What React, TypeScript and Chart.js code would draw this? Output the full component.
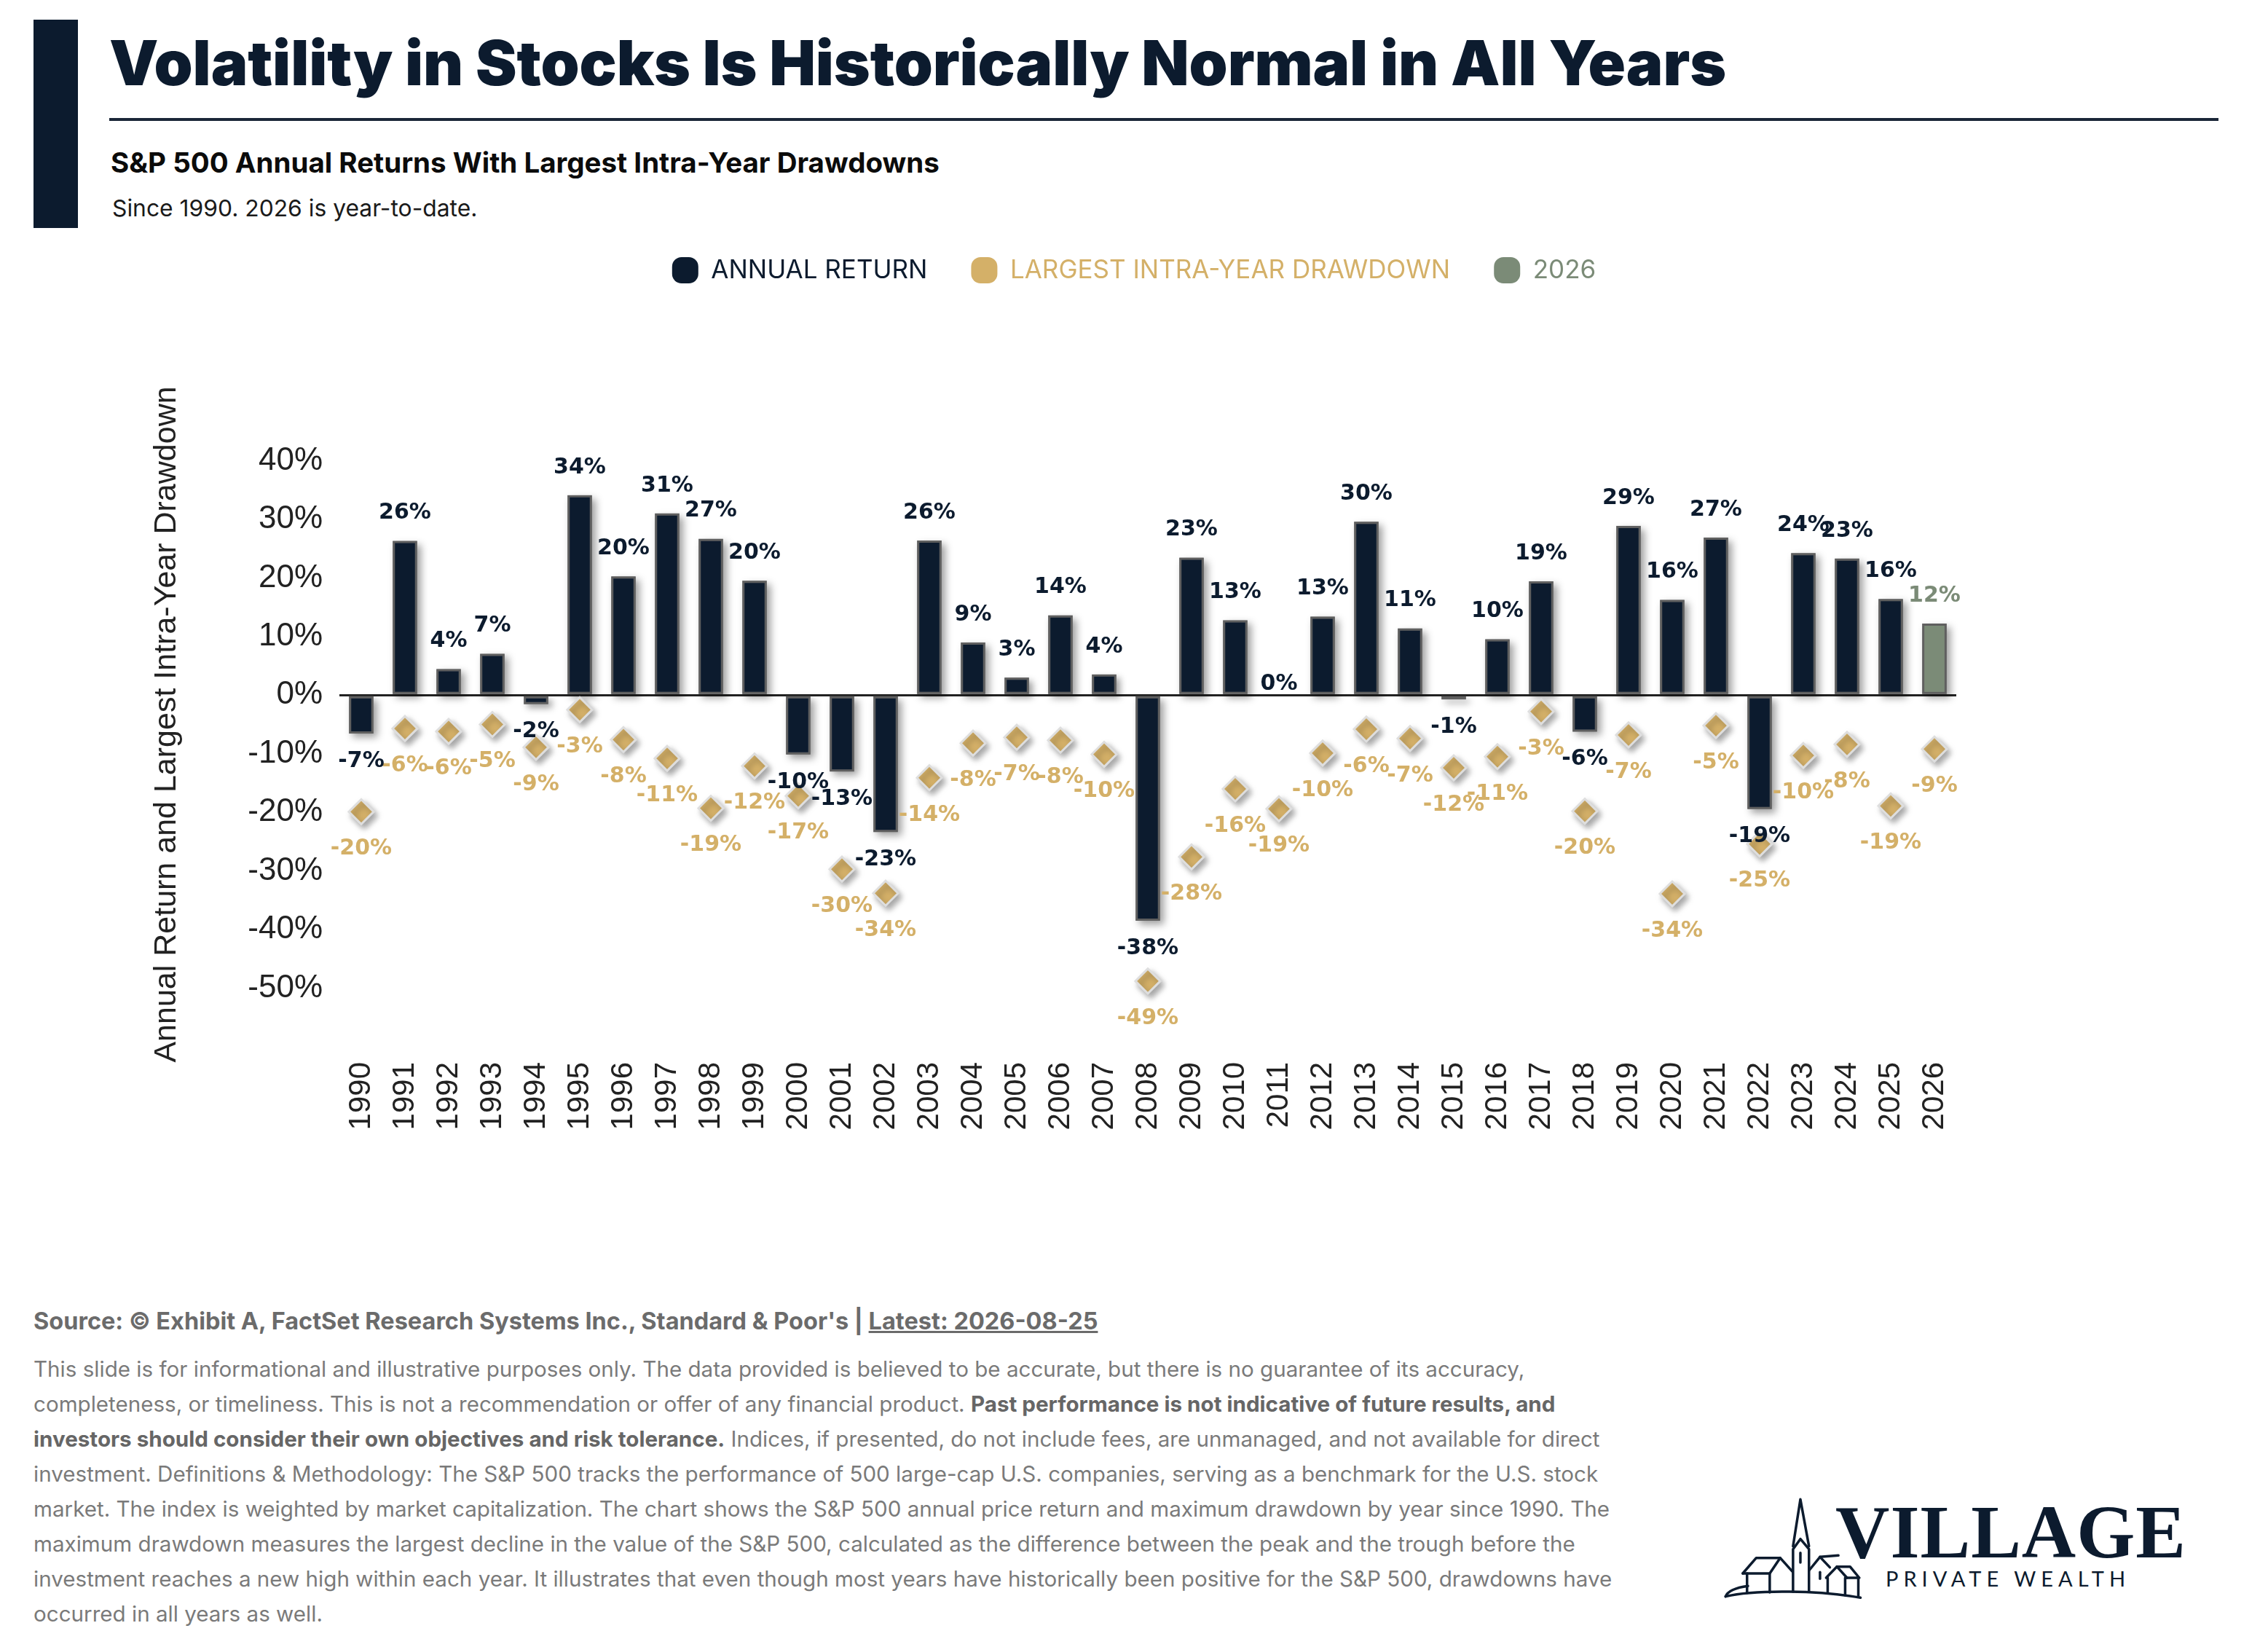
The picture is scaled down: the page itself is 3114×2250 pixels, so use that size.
import React, { useEffect, useRef } from 'react';
import { Chart, registerables } from 'chart.js';

Chart.register(...registerables);

// ---------------- DATA ----------------
const YEARS = [
  '1990', '1991', '1992', '1993', '1994', '1995', '1996', '1997', '1998', '1999',
  '2000', '2001', '2002', '2003', '2004', '2005', '2006', '2007', '2008', '2009',
  '2010', '2011', '2012', '2013', '2014', '2015', '2016', '2017', '2018', '2019',
  '2020', '2021', '2022', '2023', '2024', '2025', '2026',
];

const ANNUAL_RETURN = [
  -6.56, 26.31, 4.46, 7.06, -1.54, 34.11, 20.26, 31.01, 26.67, 19.53,
  -10.14, -13.04, -23.37, 26.38, 8.99, 3.0, 13.62, 3.53, -38.49, 23.45,
  12.78, 0.0, 13.41, 29.6, 11.39, -0.73, 9.54, 19.42, -6.24, 28.88,
  16.26, 26.89, -19.44, 24.23, 23.31, 16.4, 12.2,
];

const LARGEST_DRAWDOWN = [
  -19.9, -5.7, -6.2, -5.0, -8.9, -2.5, -7.6, -10.8, -19.3, -12.1,
  -17.2, -29.7, -33.8, -14.1, -8.2, -7.2, -7.7, -10.1, -48.8, -27.6,
  -16.0, -19.4, -9.9, -5.8, -7.4, -12.4, -10.5, -2.8, -19.8, -6.8,
  -33.9, -5.2, -25.4, -10.3, -8.4, -18.9, -9.2,
];

const Y_TICKS = [40, 30, 20, 10, 0, -10, -20, -30, -40, -50];
const HIGHLIGHT_YEAR = '2026';
const LEGEND_LABELS = ['ANNUAL RETURN', 'LARGEST INTRA-YEAR DRAWDOWN', '2026'];

// ---------------- STYLE ----------------
const NAVY = '#0c1b2e';
const GOLD = '#d4b068';
const SAGE = '#7b8b77';
const TICK_COLOR = '#222222';

const pct = (v: number) => {
  const r = Math.sign(v) * Math.round(Math.abs(v));
  return (r === 0 ? 0 : r) + '%';
};

const barShadowPlugin = {
  id: 'barShadow',
  beforeDatasetsDraw(chart: any) {
    const meta = chart.getDatasetMeta(0);
    const ctx = chart.ctx;
    ctx.save();
    ctx.shadowColor = 'rgba(0,0,0,0.38)';
    ctx.shadowBlur = 10;
    ctx.shadowOffsetX = 5;
    ctx.shadowOffsetY = 5;
    ctx.fillStyle = '#777';
    meta.data.forEach((el: any) => {
      const { x, y, base, width } = el.getProps(['x', 'y', 'base', 'width'], true);
      const top = Math.min(y, base);
      const h = Math.abs(base - y);
      if (h < 0.5) return;
      ctx.fillRect(x - width / 2, top, width, h);
    });
    ctx.restore();
  },
  beforeDatasetDraw(chart: any, args: any) {
    if (args.index === 1) {
      const ctx = chart.ctx;
      ctx.save();
      ctx.shadowColor = 'rgba(0,0,0,0.35)';
      ctx.shadowBlur = 9;
      ctx.shadowOffsetX = 4;
      ctx.shadowOffsetY = 5;
    }
  },
  afterDatasetDraw(chart: any, args: any) {
    if (args.index === 1) chart.ctx.restore();
  },
};

const valueLabelPlugin = {
  id: 'valueLabels',
  afterDatasetsDraw(chart: any) {
    const ctx = chart.ctx;
    ctx.save();
    ctx.font = 'bold 30px "DejaVu Sans"';
    ctx.textAlign = 'center';
    ctx.textBaseline = 'middle';
    const bars = chart.getDatasetMeta(0).data;
    const pts = chart.getDatasetMeta(1).data;
    pts.forEach((el: any, i: number) => {
      ctx.fillStyle = GOLD;
      ctx.fillText(pct(LARGEST_DRAWDOWN[i]), el.x, el.y + 51);
    });
    bars.forEach((el: any, i: number) => {
      const v = ANNUAL_RETURN[i];
      const off = v === 0 ? 15 : 38;
      const y = v >= 0 ? el.y - off : el.y + off;
      ctx.fillStyle = YEARS[i] === HIGHLIGHT_YEAR ? SAGE : NAVY;
      ctx.fillText(pct(v), el.x, y);
    });
    ctx.restore();
  },
};

const LEGEND_GAP = 153;
const legendSpacerPlugin = {
  id: 'legendSpacer',
  beforeInit(chart: any) {
    const lg = chart.legend;
    if (!lg) return;
    const fit = lg.fit;
    lg.fit = function () {
      fit.call(this);
      this.height += LEGEND_GAP;
    };
  },
};

function VolatilityChart() {
  const ref = useRef<HTMLCanvasElement | null>(null);
  useEffect(() => {
    if (!ref.current) return;
    const barColors = YEARS.map((y) => (y === HIGHLIGHT_YEAR ? SAGE : NAVY));
    const chart = new Chart(ref.current, {
      type: 'bar',
      data: {
        labels: YEARS,
        datasets: [
          {
            type: 'bar',
            label: LEGEND_LABELS[0],
            data: ANNUAL_RETURN,
            backgroundColor: barColors,
            borderColor: '#5f5f5f',
            borderWidth: 3,
            borderSkipped: false,
            barPercentage: 0.56,
            categoryPercentage: 1,
            order: 2,
          } as any,
          {
            type: 'line',
            label: LEGEND_LABELS[1],
            data: LARGEST_DRAWDOWN,
            showLine: false,
            pointStyle: 'rectRot',
            pointRadius: 17,
            pointBorderWidth: 3,
            pointBackgroundColor: GOLD,
            pointBorderColor: '#dedede',
            order: 1,
          } as any,
        ],
      },
      options: {
        animation: false,
        responsive: true,
        maintainAspectRatio: false,
        events: [],
        layout: { padding: 0 },
        plugins: {
          tooltip: { enabled: false },
          legend: {
            display: true,
            position: 'top',
            onClick: () => {},
            labels: {
              boxWidth: 36,
              boxHeight: 36,
              padding: 60,
              useBorderRadius: true,
              borderRadius: 13,
              font: { family: 'Inter', size: 35, weight: '400' },
              generateLabels: () =>
                [NAVY, GOLD, SAGE].map((c, i) => ({
                  text: LEGEND_LABELS[i],
                  fillStyle: c,
                  strokeStyle: c,
                  fontColor: c,
                  lineWidth: 0,
                  hidden: false,
                  borderRadius: 13,
                  datasetIndex: i,
                })) as any,
            },
          },
        },
        scales: {
          x: {
            grid: { display: false },
            border: { display: false },
            ticks: {
              autoSkip: false,
              minRotation: 90,
              maxRotation: 90,
              padding: 13,
              color: TICK_COLOR,
              font: { family: 'Liberation Sans', size: 42 },
            },
            afterFit: (s: any) => {
              s.height = 150;
            },
          },
          y: {
            min: -60,
            max: 50,
            border: { display: false },
            grid: {
              drawTicks: false,
              lineWidth: 3,
              color: (c: any) => (c.tick && c.tick.value === 0 ? '#222222' : 'rgba(0,0,0,0)'),
            },
            afterBuildTicks: (s: any) => {
              s.ticks = Y_TICKS.map((v) => ({ value: v }));
            },
            ticks: {
              padding: 23,
              color: TICK_COLOR,
              font: { family: 'Liberation Sans', size: 44 },
              callback: (v: any) => v + '%',
            },
            title: {
              display: true,
              text: 'Annual Return and Largest Intra-Year Drawdown',
              color: TICK_COLOR,
              font: { family: 'Liberation Sans', size: 43 },
              padding: { top: 203, bottom: 0 },
            },
            afterFit: (s: any) => {
              s.width = 466;
            },
          },
          y2: {
            position: 'right',
            display: true,
            grid: { display: false },
            border: { display: false },
            ticks: { display: false },
            afterFit: (s: any) => {
              s.width = 428;
            },
          },
        },
      } as any,
      plugins: [barShadowPlugin, valueLabelPlugin, legendSpacerPlugin],
    });
    return () => chart.destroy();
  }, []);
  return (
    <div style={{ position: 'absolute', left: 0, top: 293, width: 3114, height: 1294 }}>
      <canvas ref={ref} />
    </div>
  );
}

function Logo() {
  const s: React.CSSProperties = { fill: 'none', stroke: NAVY, strokeWidth: 3.5, strokeLinejoin: 'round', strokeLinecap: 'round' };
  const paths = [
    'M 22 425 C 120 395, 330 400, 462 430',
    'M 22 425 C 30 400, 60 388, 95 382',
    'M 78 330 L 122 266 L 200 266 L 240 322',
    'M 78 330 L 166 330 L 200 266',
    'M 92 330 L 92 410',
    'M 166 330 L 166 408',
    'M 242 405 L 242 230 L 266 188 L 294 230 L 294 405',
    'M 242 218 L 266 25 L 294 218',
    'M 266 245 L 266 285',
    'M 294 318 L 330 262 L 362 305',
    'M 330 262 L 390 256',
    'M 330 325 L 330 352',
    'M 350 348 L 385 302 L 418 348',
    'M 385 302 L 428 302 L 458 348 L 418 348',
    'M 355 348 L 355 410',
    'M 412 348 L 412 420',
    'M 455 348 L 455 425',
  ];
  return (
    <>
      <svg
        style={{ position: 'absolute', left: 2360, top: 2050, width: 660, height: 180 }}
        viewBox="0 0 1568 540"
        preserveAspectRatio="none"
      >
        {paths.map((d, i) => (
          <path key={i} d={d} style={s} vectorEffect="non-scaling-stroke" />
        ))}
      </svg>
      <div
        style={{
          position: 'absolute', left: 2520, top: 2052, fontFamily: '"Liberation Serif", serif',
          fontWeight: 700, fontSize: 103, lineHeight: '103px', color: NAVY, letterSpacing: 1, whiteSpace: 'nowrap',
        }}
      >
        VILLAGE
      </div>
      <div
        style={{
          position: 'absolute', left: 2589, top: 2152, fontFamily: 'Lato, sans-serif', fontWeight: 400,
          fontSize: 29, lineHeight: '29px', color: NAVY, letterSpacing: 7, whiteSpace: 'nowrap',
        }}
      >
        PRIVATE WEALTH
      </div>
    </>
  );
}

const B = ({ children }: { children: React.ReactNode }) => <b style={{ fontWeight: 700, color: '#666' }}>{children}</b>;

export default function App() {
  const lineStyle: React.CSSProperties = { whiteSpace: 'nowrap', height: 48 };
  return (
    <div
      style={{
        position: 'absolute', left: 0, top: 0, width: 3114, height: 2250, background: '#ffffff',
        overflow: 'hidden', fontFamily: 'Inter, sans-serif',
      }}
    >
      <div style={{ position: 'absolute', left: 46, top: 27, width: 61, height: 286, background: NAVY }} />
      <div
        style={{
          position: 'absolute', left: 150, top: 44, fontSize: 85, lineHeight: '85px', fontWeight: 900,
          color: NAVY, whiteSpace: 'nowrap', letterSpacing: -0.1,
        }}
      >
        Volatility in Stocks Is Historically Normal in All Years
      </div>
      <div style={{ position: 'absolute', left: 150, top: 162, width: 2896, height: 4, background: '#1a2638' }} />
      <div
        style={{
          position: 'absolute', left: 152, top: 204, fontSize: 38.5, lineHeight: '38px', fontWeight: 700,
          color: '#0b0b0b', whiteSpace: 'nowrap',
        }}
      >
        S&amp;P 500 Annual Returns With Largest Intra-Year Drawdowns
      </div>
      <div
        style={{
          position: 'absolute', left: 154, top: 270, fontSize: 31.8, lineHeight: '31px', fontWeight: 400,
          color: '#1a1a1a', whiteSpace: 'nowrap',
        }}
      >
        Since 1990. 2026 is year-to-date.
      </div>

      <VolatilityChart />

      <div
        style={{
          position: 'absolute', left: 46, top: 1798, fontSize: 32.5, lineHeight: '32px', fontWeight: 700,
          color: '#6b6b6b', whiteSpace: 'nowrap',
        }}
      >
        Source: © Exhibit A, FactSet Research Systems Inc., Standard &amp; Poor's |{' '}
        <span style={{ textDecoration: 'underline' }}>Latest: 2026-08-25</span>
      </div>
      <div
        style={{
          position: 'absolute', left: 46, top: 1855, fontSize: 29.6, lineHeight: '48px', fontWeight: 400,
          color: '#7a7a7a',
        }}
      >
        <div style={lineStyle}>
          This slide is for informational and illustrative purposes only. The data provided is believed to be accurate, but there is no guarantee of its accuracy,
        </div>
        <div style={lineStyle}>
          completeness, or timeliness. This is not a recommendation or offer of any financial product.{' '}
          <B>Past performance is not indicative of future results, and</B>
        </div>
        <div style={lineStyle}>
          <B>investors should consider their own objectives and risk tolerance.</B> Indices, if presented, do not include fees, are unmanaged, and not available for direct
        </div>
        <div style={lineStyle}>
          investment. Definitions &amp; Methodology: The S&amp;P 500 tracks the performance of 500 large-cap U.S. companies, serving as a benchmark for the U.S. stock
        </div>
        <div style={lineStyle}>
          market. The index is weighted by market capitalization. The chart shows the S&amp;P 500 annual price return and maximum drawdown by year since 1990. The
        </div>
        <div style={lineStyle}>
          maximum drawdown measures the largest decline in the value of the S&amp;P 500, calculated as the difference between the peak and the trough before the
        </div>
        <div style={lineStyle}>
          investment reaches a new high within each year. It illustrates that even though most years have historically been positive for the S&amp;P 500, drawdowns have
        </div>
        <div style={lineStyle}>occurred in all years as well.</div>
      </div>

      <Logo />
    </div>
  );
}
